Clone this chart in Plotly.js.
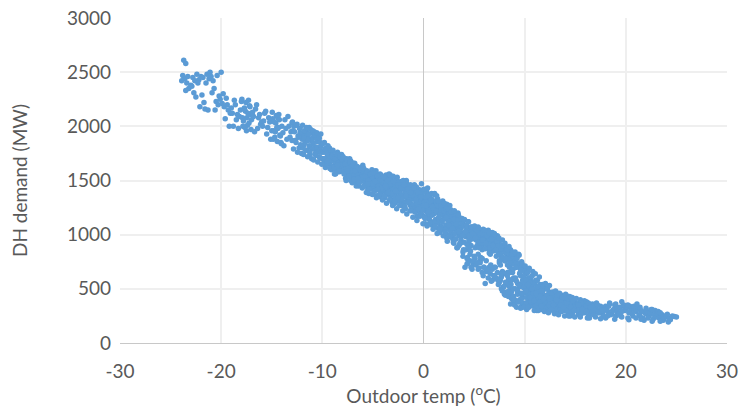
<!DOCTYPE html>
<html>
<head>
<meta charset="utf-8">
<script src="https://cdn.plot.ly/plotly-3.0.1.min.js"></script>
<style>html,body{margin:0;padding:0;background:#fff;}#chart{width:739px;height:412px;}</style>
</head>
<body>
<div id="chart"></div>
<script>
// Outdoor temperature (°C)
const temperature = [
-23.7,-23.5,-23.8,-23.6,-23.4,-23.9,-23.2,-23.5,-23.0,-23.3,
-22.8,-22.6,-22.9,-22.4,-22.2,-22.5,-22.7,-22.1,-22.3,-22.0,
-21.8,-21.6,-21.4,-21.7,-21.2,-21.5,-21.0,-21.3,-21.9,-21.1,
-20.8,-20.6,-20.4,-20.2,-20.0,-20.5,-20.7,-20.3,-20.1,-20.9,
-19.9,-19.7,-19.5,-19.3,-19.8,-19.1,-19.6,-19.4,-19.2,-19.0,
-18.9,-18.7,-18.5,-18.3,-18.1,-18.8,-18.6,-18.4,-18.2,-18.0,
-17.9,-17.7,-17.5,-17.3,-17.1,-17.8,-17.6,-17.4,-17.2,-17.0,
-16.9,-16.7,-16.5,-16.3,-16.1,-16.8,-16.6,-16.4,-16.2,-16.0,
-15.9,-15.7,-15.5,-15.3,-15.1,-15.8,-15.6,-15.4,-15.2,-15.0,
-14.9,-14.7,-14.5,-14.3,-14.1,-14.8,-14.6,-14.4,-14.2,-14.0,
-13.9,-13.7,-13.5,-13.3,-13.1,-13.8,-13.6,-13.4,-13.2,-13.0,
-12.9,-12.7,-12.5,-12.3,-12.1,-12.8,-12.6,-12.4,-12.2,-12.0,
-11.9,-11.7,-11.5,-11.3,-11.1,-11.8,-11.6,-11.4,-11.2,-11.0,
-10.9,-10.7,-10.5,-10.3,-10.1,-10.8,-10.6,-10.4,-10.2,-10.0,
-10.9,-10.5,-10.3,-10.6,-10.2,-11.2,-11.5,-12.2,-13.0,-14.4,
-9.9,-9.8,-9.6,-9.5,-9.3,-9.2,-9.0,-9.7,-9.4,-9.1,
-8.9,-8.8,-8.6,-8.5,-8.3,-8.2,-8.0,-8.7,-8.4,-8.1,
-8.9,-8.6,-8.4,-8.2,-8.0,-9.3,-9.1,-8.7,-8.3,-8.1,
-7.9,-7.8,-7.6,-7.5,-7.3,-7.2,-7.0,-7.7,-7.4,-7.1,
-7.9,-7.6,-7.4,-7.2,-7.0,-7.8,-7.5,-7.3,-7.1,-6.9,
-6.9,-6.8,-6.6,-6.5,-6.3,-6.2,-6.0,-6.7,-6.4,-6.1,
-6.8,-6.6,-6.4,-6.2,-6.0,-6.7,-6.5,-6.3,-6.1,-5.9,
-5.9,-5.8,-5.6,-5.5,-5.3,-5.2,-5.0,-5.7,-5.4,-5.1,
-5.8,-5.6,-5.4,-5.2,-5.0,-5.9,-5.7,-5.5,-5.3,-5.1,
-4.9,-4.8,-4.6,-4.5,-4.3,-4.2,-4.0,-4.7,-4.4,-4.1,
-4.9,-4.7,-4.5,-4.3,-4.1,-4.8,-4.6,-4.4,-4.2,-4.0,
-3.9,-3.8,-3.6,-3.5,-3.3,-3.2,-3.0,-3.7,-3.4,-3.1,
-3.9,-3.7,-3.5,-3.3,-3.1,-3.8,-3.6,-3.4,-3.2,-3.0,
-2.9,-2.8,-2.6,-2.5,-2.3,-2.2,-2.0,-2.7,-2.4,-2.1,
-2.9,-2.7,-2.5,-2.3,-2.1,-2.8,-2.6,-2.4,-2.2,-2.0,
-1.9,-1.8,-1.6,-1.5,-1.3,-1.2,-1.0,-1.7,-1.4,-1.1,
-1.9,-1.7,-1.5,-1.3,-1.1,-1.8,-1.6,-1.4,-1.2,-1.0,
-0.9,-0.8,-0.6,-0.5,-0.3,-0.2,0.0,-0.7,-0.4,-0.1,
-0.9,-0.7,-0.5,-0.3,-0.1,-0.8,-0.6,-0.4,-0.2,0.0,
-3.4,-2.6,-1.7,-0.9,-0.2,-4.3,-3.1,-2.1,-1.2,-0.6,
0.1,0.2,0.4,0.5,0.7,0.8,1.0,0.3,0.6,0.9,
0.1,0.3,0.5,0.7,0.9,0.2,0.4,0.6,0.8,1.0,
1.1,1.2,1.4,1.5,1.7,1.8,2.0,1.3,1.6,1.9,
1.1,1.3,1.5,1.7,1.9,1.2,1.4,1.6,1.8,2.0,
2.1,2.2,2.4,2.5,2.7,2.8,3.0,2.3,2.6,2.9,
2.1,2.3,2.5,2.7,2.9,2.2,2.4,2.6,2.8,3.0,
3.1,3.2,3.4,3.5,3.7,3.8,4.0,3.3,3.6,3.9,
3.1,3.3,3.5,3.7,3.9,3.2,3.4,3.6,3.8,4.0,
4.1,4.2,4.4,4.5,4.7,4.8,5.0,4.3,4.6,4.9,
4.1,4.3,4.5,4.7,4.9,4.2,4.4,4.6,4.8,5.0,
0.4,1.1,1.9,2.6,3.4,0.8,1.6,2.3,3.0,4.4,
0.6,1.4,2.2,2.9,3.6,4.3,4.8,3.9,4.6,4.1,
5.1,5.2,5.4,5.5,5.7,5.8,6.0,5.3,5.6,5.9,
5.1,5.3,5.5,5.7,5.9,5.2,5.4,5.6,5.8,6.0,
6.1,6.2,6.4,6.5,6.7,6.8,7.0,6.3,6.6,6.9,
6.1,6.3,6.5,6.7,6.9,6.2,6.4,6.6,6.8,7.0,
7.1,7.2,7.4,7.5,7.7,7.8,8.0,7.3,7.6,7.9,
7.1,7.3,7.5,7.7,7.9,7.2,7.4,7.6,7.8,8.0,
8.1,8.2,8.4,8.5,8.7,8.8,9.0,8.3,8.6,8.9,
8.1,8.3,8.5,8.7,8.9,8.2,8.4,8.6,8.8,9.0,
9.1,9.2,9.4,9.5,9.7,9.8,10.0,9.3,9.6,9.9,
9.1,9.3,9.5,9.7,9.9,9.2,9.4,9.6,9.8,10.0,
5.4,6.2,7.0,7.8,8.5,9.3,5.8,6.5,7.3,8.2,
4.5,5.0,5.6,6.1,6.8,7.5,8.8,9.6,10.2,10.8,
10.1,10.2,10.4,10.5,10.7,10.8,11.0,10.3,10.6,10.9,
10.1,10.3,10.5,10.7,10.9,10.2,10.4,10.6,10.8,11.0,
11.1,11.2,11.4,11.5,11.7,11.8,12.0,11.3,11.6,11.9,
11.1,11.3,11.5,11.7,11.9,11.2,11.4,11.6,11.8,12.0,
12.1,12.2,12.4,12.5,12.7,12.8,13.0,12.3,12.6,12.9,
12.1,12.3,12.5,12.7,12.9,12.2,12.4,12.6,12.8,13.0,
13.1,13.2,13.4,13.5,13.7,13.8,14.0,13.3,13.6,13.9,
14.1,14.2,14.4,14.5,14.7,14.8,15.0,14.3,14.6,14.9,
13.2,13.6,14.0,14.4,14.8,13.4,13.8,14.2,14.6,15.0,
15.1,15.2,15.4,15.5,15.7,15.8,16.0,15.3,15.6,15.9,
15.1,15.3,15.5,15.7,15.9,15.2,15.4,15.6,15.8,16.0,
16.1,16.2,16.4,16.5,16.7,16.8,17.0,16.3,16.6,16.9,
16.1,16.3,16.5,16.7,16.9,17.1,17.3,17.5,17.7,17.9,
17.2,17.4,17.6,17.8,18.0,18.2,18.4,18.6,18.8,19.0,
18.1,18.3,18.5,18.7,18.9,19.1,19.3,19.5,19.7,19.9,
19.2,19.4,19.6,19.8,20.0,17.0,18.0,19.0,16.4,17.6,
20.1,20.3,20.5,20.7,20.9,20.2,20.4,20.6,20.8,21.0,
21.1,21.3,21.5,21.7,21.9,21.2,21.4,21.6,21.8,22.0,
22.1,22.3,22.5,22.7,22.9,22.2,22.4,22.6,22.8,23.0,
23.1,23.3,23.5,23.7,23.9,23.2,23.4,23.6,23.8,22.5,
24.0,24.2,24.3,24.6,24.8,25.0,24.4,24.1,23.4,21.5,
-11.9,-11.6,-11.3,-11.0,-10.7,-10.4,-10.1,-9.8,-9.5,-9.2,
-11.8,-11.4,-11.0,-10.6,-10.2,-9.9,-9.6,-9.3,-9.0,-8.7,
-8.9,-8.7,-8.5,-8.3,-8.1,-7.9,-7.7,-7.5,-7.3,-7.1,
-8.8,-8.4,-8.0,-7.6,-7.2,-6.8,-6.4,-6.0,-5.6,-5.2,
-6.9,-6.7,-6.5,-6.3,-6.1,-5.9,-5.7,-5.5,-5.3,-5.1,
-5.0,-4.8,-4.6,-4.4,-4.2,-4.0,-3.8,-3.6,-3.4,-3.2,
-4.9,-4.7,-4.5,-4.3,-4.1,-3.9,-3.7,-3.5,-3.3,-3.1,
-3.0,-2.8,-2.6,-2.4,-2.2,-2.0,-1.8,-1.6,-1.4,-1.2,
-2.9,-2.5,-2.1,-1.7,-1.3,-0.9,-0.5,-0.1,0.3,0.7,
-1.0,-0.8,-0.6,-0.4,-0.2,0.0,0.2,0.4,0.6,0.8,
-0.7,-0.3,0.1,0.5,0.9,1.3,1.7,2.1,2.5,2.9,
1.0,1.2,1.4,1.6,1.8,2.0,2.2,2.4,2.6,2.8,
0.2,0.6,1.0,1.4,1.8,2.2,2.6,3.0,3.4,3.8,
3.0,3.2,3.4,3.6,3.8,4.0,4.2,4.4,4.6,4.8,
3.1,3.5,3.9,4.3,4.7,5.1,5.5,5.9,6.3,6.7,
5.0,5.2,5.4,5.6,5.8,6.0,6.2,6.4,6.6,6.8,
5.3,5.7,6.1,6.5,6.9,7.3,7.7,8.1,8.5,8.9,
3.5,3.9,4.3,4.7,5.1,5.5,5.9,6.3,6.7,7.1,
7.0,7.2,7.4,7.6,7.8,8.0,8.2,8.4,8.6,8.8,
7.2,7.6,8.0,8.4,8.8,9.2,9.6,10.0,10.4,10.8,
7.7,8.1,8.5,8.9,9.3,9.7,10.1,10.5,10.9,11.3,
8.0,8.4,8.8,9.2,9.6,10.0,10.4,10.8,11.2,11.6,
8.7,9.0,9.3,9.6,9.9,10.2,10.5,10.8,11.1,11.4,
11.0,11.3,11.6,11.9,12.2,12.5,12.8,13.1,13.4,13.7,
11.5,11.8,12.1,12.4,12.7,13.0,13.3,13.6,13.9,14.2,
12.0,12.4,12.8,13.2,13.6,14.0,14.4,14.8,15.2,15.6,
14.1,14.5,14.9,15.3,15.7,16.1,16.5,16.9,17.3,17.7,
14.5,15.5,16.2,16.8,17.5,18.2,18.9,19.6,20.3,21.0,
18.4,19.0,19.6,20.2,20.8,21.4,22.0,22.6,21.1,19.3,
-9.95,-9.85,-9.75,-9.65,-9.55,-9.45,-9.35,-9.25,-9.15,-9.05,
-8.95,-8.85,-8.75,-8.65,-8.55,-8.45,-8.35,-8.25,-8.15,-8.05,
-7.95,-7.85,-7.75,-7.65,-7.55,-7.45,-7.35,-7.25,-7.15,-7.05,
-6.95,-6.85,-6.75,-6.65,-6.55,-6.45,-6.35,-6.25,-6.15,-6.05,
-5.95,-5.85,-5.75,-5.65,-5.55,-5.45,-5.35,-5.25,-5.15,-5.05,
-4.95,-4.85,-4.75,-4.65,-4.55,-4.45,-4.35,-4.25,-4.15,-4.05,
-3.95,-3.85,-3.75,-3.65,-3.55,-3.45,-3.35,-3.25,-3.15,-3.05,
-2.95,-2.85,-2.75,-2.65,-2.55,-2.45,-2.35,-2.25,-2.15,-2.05,
-1.95,-1.85,-1.75,-1.65,-1.55,-1.45,-1.35,-1.25,-1.15,-1.05,
-0.95,-0.85,-0.75,-0.65,-0.55,-0.45,-0.35,-0.25,-0.15,-0.05,
0.05,0.15,0.25,0.35,0.45,0.55,0.65,0.75,0.85,0.95,
1.05,1.15,1.25,1.35,1.45,1.55,1.65,1.75,1.85,1.95,
2.05,2.15,2.25,2.35,2.45,2.55,2.65,2.75,2.85,2.95,
3.05,3.15,3.25,3.35,3.45,3.55,3.65,3.75,3.85,3.95,
4.05,4.15,4.25,4.35,4.45,4.55,4.65,4.75,4.85,4.95,
5.05,5.15,5.25,5.35,5.45,5.55,5.65,5.75,5.85,5.95,
6.05,6.15,6.25,6.35,6.45,6.55,6.65,6.75,6.85,6.95,
7.05,7.15,7.25,7.35,7.45,7.55,7.65,7.75,7.85,7.95,
8.05,8.15,8.25,8.35,8.45,8.55,8.65,8.75,8.85,8.95,
9.05,9.15,9.25,9.35,9.45,9.55,9.65,9.75,9.85,9.95,
10.05,10.15,10.25,10.35,10.45,10.55,10.65,10.75,10.85,10.95,
11.05,11.15,11.25,11.35,11.45,11.55,11.65,11.75,11.85,11.95,
12.05,12.15,12.25,12.35,12.45,12.55,12.65,12.75,12.85,12.95,
-4.5,-3.5,-2.5,-1.5,-0.5,0.5,1.5,2.5,3.5,4.5,
-9.5,-8.5,-7.5,-6.5,-5.5,5.5,6.5,7.5,8.5,9.5,
10.5,11.5,12.5,13.5,14.5,10.3,11.7,12.7,13.3,14.7,
13.05,13.15,13.25,13.35,13.45,13.55,13.65,13.75,13.85,13.95,
14.05,14.15,14.25,14.35,14.45,14.55,14.65,14.75,14.85,14.95,
-14.95,-14.85,-14.75,-14.65,-14.55,-14.45,-14.35,-14.25,-14.15,-14.05,
-12.95,-12.85,-12.75,-12.65,-12.55,-12.45,-12.35,-12.25,-12.15,-12.05,
-17.95,-17.85,-17.75,-17.65,-17.55,-17.45,-17.35,-17.25,-17.15,-17.05,
-11.95,-11.85,-11.75,-11.65,-11.55,-11.45,-11.35,-11.25,-11.15,-11.05,
-10.95,-10.85,-10.75,-10.65,-10.55,-10.45,-10.35,-10.25,-10.15,-10.05,
8.1,8.3,8.5,8.7,8.9,9.1,9.3,9.5,9.7,9.9,
10.1,10.3,10.5,10.7,10.9,11.1,11.3,11.5,11.7,11.9
];
// DH demand (MW), same order as temperature
const demand = [
2610,2580,2470,2440,2400,2420,2350,2330,2380,2460,
2450,2420,2370,2480,2430,2270,2310,2180,2400,2460,
2450,2160,2480,2220,2440,2400,2460,2150,2290,2500,
2420,2150,2470,2280,2500,2230,2350,2200,2250,2310,
2210,2180,2260,2150,2300,2120,2070,2200,2000,2170,
2120,2240,2060,1980,2150,2000,2200,2110,2090,2230,
2080,2170,1960,2240,2110,2050,2140,2010,2190,2060,
2130,1950,2200,2080,2020,2090,2160,1980,2110,2040,
2000,2120,1930,2080,1880,2050,2140,1990,2040,1960,
2070,1900,1990,2110,1850,1960,2030,2080,1920,2000,
1940,2060,1880,2000,1950,1820,1980,2090,1900,2030,
1960,1870,2020,1800,1930,2000,1850,1910,1980,1880,
1920,1850,1780,1990,1880,1830,1950,1900,1740,1860,
1900,1800,1860,1720,1830,1950,1770,1880,1810,1700,
1840,1760,1890,1810,1780,1810,1930,1940,1870,1980,
1760,1680,1800,1720,1650,1770,1700,1620,1740,1600,
1720,1640,1690,1760,1580,1670,1620,1560,1700,1740,
1610,1730,1650,1600,1680,1690,1630,1670,1720,1590,
1660,1590,1700,1620,1550,1680,1600,1520,1640,1570,
1610,1650,1580,1630,1660,1700,1540,1600,1620,1530,
1600,1640,1480,1560,1610,1520,1580,1550,1450,1620,
1590,1530,1600,1570,1500,1620,1500,1540,1560,1510,
1560,1480,1590,1420,1530,1460,1550,1510,1380,1600,
1540,1450,1500,1570,1480,1610,1520,1470,1560,1430,
1500,1560,1420,1470,1530,1380,1450,1590,1510,1490,
1440,1520,1540,1400,1460,1480,1360,1500,1550,1420,
1480,1400,1530,1450,1360,1500,1420,1550,1470,1320,
1430,1370,1490,1510,1440,1340,1460,1410,1390,1480,
1450,1380,1500,1330,1420,1470,1360,1520,1400,1300,
1410,1350,1440,1380,1450,1290,1470,1310,1490,1420,
1420,1300,1360,1450,1270,1390,1330,1480,1400,1250,
1370,1340,1410,1320,1440,1240,1380,1290,1350,1400,
1380,1250,1320,1420,1200,1300,1350,1440,1270,1180,
1330,1290,1360,1240,1310,1210,1400,1330,1260,1230,
1560,1530,1500,1460,1470,1350,1300,1270,1220,1170,
1300,1220,1380,1150,1260,1330,1190,1410,1240,1100,
1250,1330,1280,1200,1290,1160,1240,1350,1230,1300,
1270,1140,1330,1200,1080,1250,1170,1360,1220,1060,
1200,1250,1150,1290,1190,1310,1110,1240,1130,1260,
1220,1090,1260,1150,1030,1200,1120,1280,1050,960,
1150,1190,1080,1230,1140,1010,1170,1110,1180,1060,
1160,1040,1190,1080,950,1110,1020,880,1140,840,
1100,1130,990,1060,1090,960,1070,1010,1150,930,
1080,980,1120,1030,900,1050,970,780,1060,720,
1020,1060,940,1000,1040,860,990,820,960,1070,
1430,1380,1310,1270,1200,1090,1020,970,920,740,
1180,1120,1200,1000,920,910,680,1120,760,700,
1040,950,1070,900,990,860,1020,980,930,1050,
880,1010,960,1030,910,720,680,760,650,700,
1000,920,1040,860,970,900,1010,950,820,940,
980,890,1000,930,850,660,600,640,580,620,
960,880,820,940,780,900,850,990,720,870,
910,850,560,610,520,600,540,580,480,450,
880,790,840,700,810,750,820,650,860,600,
760,720,450,410,380,470,430,360,420,350,
780,700,820,640,750,580,700,550,680,610,
500,460,400,340,370,330,380,320,420,350,
820,760,700,660,560,480,780,700,650,540,
880,800,740,550,680,740,680,540,670,660,
640,560,600,480,530,420,500,380,450,340,
520,460,560,360,410,310,330,600,470,550,
580,500,460,540,400,480,430,350,310,520,
420,380,450,360,440,300,520,330,390,350,
500,440,470,380,420,350,400,310,460,290,
410,370,330,390,450,340,290,370,320,360,
470,400,430,350,380,300,410,280,360,330,
440,360,390,300,420,340,370,270,320,400,
330,440,300,350,290,390,350,410,370,310,
410,340,370,290,380,320,350,260,310,390,
360,320,400,340,280,300,350,270,360,310,
380,310,350,270,360,300,330,250,320,280,
340,370,310,290,350,370,300,340,270,320,
350,280,320,250,340,290,360,270,310,330,
310,340,260,300,350,290,320,250,340,300,
270,330,290,350,310,240,230,250,230,300,
330,280,310,250,300,230,340,270,320,290,
310,260,300,230,280,330,250,290,210,270,
290,250,270,220,300,230,280,200,260,240,
270,230,250,210,240,290,200,260,230,310,
250,195,230,250,245,240,215,265,280,220,
1800,1970,1820,1940,1750,1920,1760,1850,1700,1680,
1890,1870,1790,1890,1850,1700,1760,1800,1760,1600,
1680,1700,1630,1740,1640,1580,1680,1650,1700,1640,
1560,1600,1720,1560,1500,1660,1530,1640,1540,1500,
1560,1580,1620,1490,1590,1450,1580,1550,1490,1520,
1590,1490,1560,1440,1520,1530,1520,1440,1500,1460,
1400,1460,1500,1560,1420,1530,1480,1390,1550,1410,
1540,1460,1400,1480,1340,1500,1390,1440,1320,1430,
1360,1480,1430,1380,1460,1420,1300,1390,1350,1320,
1360,1330,1280,1380,1410,1270,1350,1200,1300,1380,
1230,1190,1160,1230,1260,1290,1230,1180,1210,1100,
1230,1310,1270,1180,1280,1220,1240,1130,1190,1170,
1100,1140,1120,1060,1040,1050,1000,1190,1150,1120,
1140,1090,1130,1060,1100,1080,1030,1060,990,1030,
1010,1040,990,1000,1070,990,1010,990,1000,990,
1000,1060,930,1000,960,950,1020,980,950,1020,
900,880,870,910,880,920,860,830,800,770,
900,800,730,700,780,690,620,680,570,700,
980,930,900,860,950,900,840,870,790,840,
800,820,760,770,730,740,720,660,600,560,
500,440,480,430,380,410,360,400,380,420,
640,590,650,570,620,560,500,450,500,430,
470,400,450,380,460,420,340,380,340,370,
460,440,480,400,360,420,370,420,320,400,
380,340,380,400,340,310,360,310,370,330,
320,350,440,380,390,350,330,360,330,370,
300,370,330,350,310,290,330,300,280,300,
250,240,230,260,225,250,220,240,215,230,
370,360,380,350,340,330,320,310,360,270,
1840,1700,1790,1650,1750,1820,1690,1610,1780,1720,
1780,1620,1700,1570,1740,1660,1590,1720,1640,1700,
1720,1560,1650,1500,1690,1610,1540,1670,1590,1480,
1660,1510,1590,1450,1630,1550,1480,1600,1530,1430,
1610,1450,1540,1390,1580,1500,1420,1560,1470,1370,
1570,1400,1490,1340,1540,1450,1370,1510,1430,1320,
1530,1360,1450,1290,1500,1400,1320,1470,1380,1270,
1490,1310,1400,1240,1460,1350,1270,1430,1330,1220,
1460,1260,1360,1190,1420,1300,1220,1390,1280,1160,
1430,1210,1320,1130,1390,1250,1170,1350,1230,1100,
1420,1150,1270,1080,1360,1200,1110,1320,1180,1050,
1370,1080,1220,1010,1310,1140,1050,1270,1120,990,
1290,1020,1160,940,1240,1080,980,1210,1060,930,
1220,960,1100,880,1180,1020,920,1150,1000,860,
1140,1030,1090,790,1120,980,850,1070,1010,760,
1080,970,1040,740,1060,930,790,1010,950,700,
1040,920,990,660,1020,880,720,960,900,620,
1000,860,940,580,970,820,640,900,790,520,
920,780,860,470,890,740,540,820,680,400,
840,700,780,380,810,650,450,730,560,330,
710,580,650,330,690,520,380,620,460,300,
640,500,580,300,610,440,340,540,400,290,
550,430,500,280,530,380,310,470,350,270,
1420,1390,1340,1300,1240,1210,1160,1090,1030,950,
1680,1640,1590,1520,1470,880,830,760,650,520,
560,470,410,450,410,650,520,460,270,260,
480,400,440,260,460,350,290,420,330,250,
450,370,410,250,430,330,280,390,300,240,
2130,1880,2040,1950,2100,1860,1990,2060,1910,1840,
2040,1790,1950,1870,2010,1760,1900,1980,1830,1750,
2250,2000,2160,1990,2220,2080,2120,2030,2180,1970,
2010,1740,1960,1780,1990,1720,1930,1760,1970,1700,
1960,1690,1920,1730,1940,1670,1900,1710,1930,1650,
560,620,520,580,500,600,480,530,460,510,
480,540,420,500,390,460,520,430,480,410
];
const xTicks = [-30, -20, -10, 0, 10, 20, 30];
const yTicks = [0, 500, 1000, 1500, 2000, 2500, 3000];

const trace = {
  x: temperature,
  y: demand,
  type: 'scatter',
  mode: 'markers',
  marker: {color: '#5B9BD5', size: 5.5, line: {width: 0}},
  hoverinfo: 'x+y'
};
const font = {family: 'Lato, Carlito, Calibri, sans-serif', color: '#595959', size: 19};
const layout = {
  width: 739, height: 412,
  margin: {l: 120, r: 12, t: 18, b: 69},
  paper_bgcolor: '#ffffff', plot_bgcolor: '#ffffff',
  showlegend: false,
  font: font,
  xaxis: {
    range: [-30, 30], tickvals: xTicks, ticktext: xTicks.map(String),
    showgrid: true, gridcolor: '#EFEFEF', gridwidth: 2,
    zeroline: true, zerolinecolor: '#C8C8C8', zerolinewidth: 1,
    showline: false, ticks: '', tickfont: font, ticklabelstandoff: 15,
    title: {text: 'Outdoor temp (<sup>o</sup>C)', font: font, standoff: 7}
  },
  yaxis: {
    range: [0, 3000], tickvals: yTicks, ticktext: yTicks.map(String),
    showgrid: true, gridcolor: '#EFEFEF', gridwidth: 2,
    zeroline: true, zerolinecolor: '#C8C8C8', zerolinewidth: 1,
    showline: false, ticks: '', tickfont: font, ticklabelstandoff: 8,
    title: {text: 'DH demand (MW)', font: font, standoff: 34}
  }
};
Plotly.newPlot('chart', [trace], layout, {staticPlot: true, displayModeBar: false});
</script>
</body>
</html>
